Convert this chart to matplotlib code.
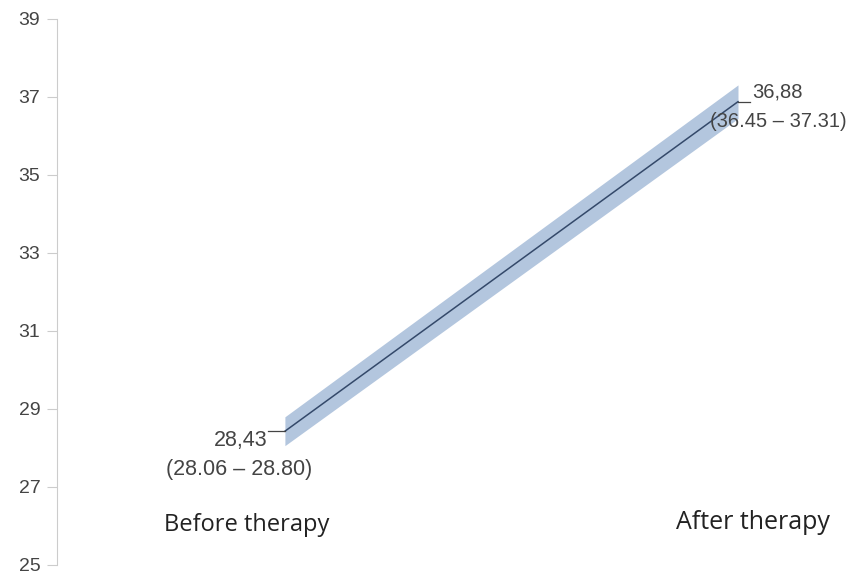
import matplotlib
matplotlib.use("Agg")
from matplotlib import pyplot as plt

# Data
timepoints = [0, 1]
group_labels = ["Before therapy", "After therapy"]
means = [28.43, 36.88]
ci_low = [28.06, 36.45]
ci_high = [28.80, 37.31]
mean_labels = ["28,43", "36,88"]
ci_labels = ["(28.06 – 28.80)", "(36.45 – 37.31)"]
y_ticks = [25, 27, 29, 31, 33, 35, 37, 39]

W, H = 849, 578
fig = plt.figure(figsize=(W / 100, H / 100), dpi=100)
ax = fig.add_axes([57 / W, 13 / H, (W - 57) / W, (565 - 19) / H])

ax.fill_between(timepoints, ci_low, ci_high, color="#b3c6de", lw=0)
ax.plot(timepoints, means, color="#34496a", lw=1.1)

ax.set_xlim(-0.503, 1.245)
ax.set_ylim(25, 39)
ax.set_yticks(y_ticks)
ax.set_xticks([])
for s in ["top", "right", "bottom"]:
    ax.spines[s].set_visible(False)
ax.spines["left"].set_color("#cccccc")
ax.tick_params(axis="y", length=7, color="#cccccc", labelsize=14,
               labelcolor="#444444", pad=5)
for lab in ax.get_yticklabels():
    lab.set_family(["Liberation Sans", "DejaVu Sans"])

num_font = ["Liberation Sans", "DejaVu Sans"]
grp_font = ["Open Sans", "DejaVu Sans"]

# Before therapy annotations
ax.plot([-0.038, 0], [means[0], means[0]], color="#444444", lw=0.9)
ax.text(-0.038, 28.2, mean_labels[0], ha="right", va="center",
        fontsize=15.5, color="#444444", family=num_font)
ax.text(-0.1, 27.44, ci_labels[0], ha="center", va="center",
        fontsize=15.5, color="#444444", family=num_font)
ax.text(-0.084, 26.03, group_labels[0], ha="center", va="center",
        fontsize=17, color="#222222", family=grp_font)

# After therapy annotations
ax.plot([1.0, 1.027], [means[1], means[1]], color="#444444", lw=0.9)
ax.text(1.031, 37.14, mean_labels[1], ha="left", va="center",
        fontsize=14.5, color="#444444", family=num_font)
ax.text(1.09, 36.38, ci_labels[1], ha="center", va="center",
        fontsize=14.5, color="#444444", family=num_font)
ax.text(1.033, 26.1, group_labels[1], ha="center", va="center",
        fontsize=18, color="#222222", family=grp_font)

fig.savefig("out.png", dpi=100)
